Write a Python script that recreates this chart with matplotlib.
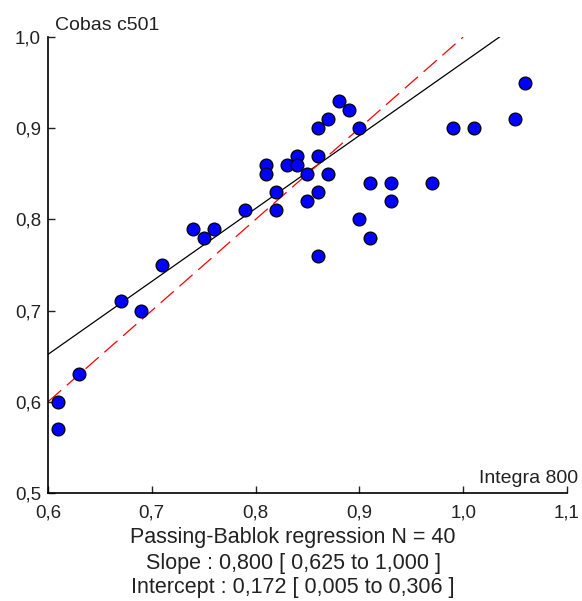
"""
Passing-Bablok method comparison: Cobas c501 vs Integra 800.
"""

import numpy as np
import matplotlib.pyplot as plt
from matplotlib.ticker import FuncFormatter

plt.rcParams["font.family"] = ["Liberation Sans", "DejaVu Sans"]

# Measured values (Integra 800 on x, Cobas c501 on y)
integra = [0.61, 0.61, 0.63, 0.67, 0.69, 0.71, 0.74, 0.75, 0.76, 0.79,
           0.81, 0.81, 0.82, 0.82, 0.83, 0.84, 0.84, 0.85, 0.85, 0.86,
           0.86, 0.86, 0.86, 0.87, 0.87, 0.88, 0.89, 0.90, 0.90, 0.91,
           0.91, 0.93, 0.93, 0.97, 0.99, 1.01, 1.05, 1.06]
cobas = [0.60, 0.57, 0.63, 0.71, 0.70, 0.75, 0.79, 0.78, 0.79, 0.81,
         0.86, 0.85, 0.83, 0.81, 0.86, 0.87, 0.86, 0.85, 0.82, 0.90,
         0.87, 0.83, 0.76, 0.91, 0.85, 0.93, 0.92, 0.90, 0.80, 0.84,
         0.78, 0.84, 0.82, 0.84, 0.90, 0.90, 0.91, 0.95]

slope = 0.800
intercept = 0.172
n_samples = 40
slope_ci = (0.625, 1.000)
intercept_ci = (0.005, 0.306)

xticks = [0.6, 0.7, 0.8, 0.9, 1.0, 1.1]
yticks = [0.5, 0.6, 0.7, 0.8, 0.9, 1.0]

fig = plt.figure(figsize=(5.82, 6.01), dpi=100)
ax = fig.add_axes([48 / 582, 1 - 493 / 601, 519 / 582, 456 / 601])

# regression line, clipped at top of plot
x_end = (1.0 - intercept) / slope
xr = np.array([0.6, x_end])
ax.plot(xr, slope * xr + intercept, color="black", linewidth=0.9, zorder=2)

# identity line
ax.plot([0.6, 1.0], [0.6, 1.0], color="red", linewidth=0.9,
        dashes=(14, 6), zorder=2)

ax.scatter(integra, cobas, s=85, color="#0000ff", edgecolors="black",
           linewidths=0.9, zorder=3, clip_on=False)

ax.set_xlim(0.6, 1.1)
ax.set_ylim(0.5, 1.0)
ax.set_xticks(xticks)
ax.set_yticks(yticks)
comma = FuncFormatter(lambda v, p: f"{v:.1f}".replace(".", ","))
ax.xaxis.set_major_formatter(comma)
ax.yaxis.set_major_formatter(comma)
ax.tick_params(direction="in", length=5, width=1, labelsize=13.5,
               colors="#222222")
ax.tick_params(axis="x", pad=8)
ax.tick_params(axis="y", pad=5)

for side in ["top", "right"]:
    ax.spines[side].set_visible(False)
for side in ["left", "bottom"]:
    ax.spines[side].set_linewidth(1.2)

fig.text(55 / 582, 1 - 30 / 601, "Cobas c501", fontsize=14,
         color="#222222", ha="left", va="baseline")
fig.text(578 / 582, 1 - 483 / 601, "Integra 800", fontsize=14,
         color="#222222", ha="right", va="baseline")

lines = [
    f"Passing-Bablok regression N = {n_samples}",
    f"Slope : {slope:.3f} [ {slope_ci[0]:.3f} to {slope_ci[1]:.3f} ]".replace(".", ","),
    f"Intercept : {intercept:.3f} [ {intercept_ci[0]:.3f} to {intercept_ci[1]:.3f} ]".replace(".", ","),
]
for txt, yc in zip(lines, [538, 563, 588]):
    fig.text(293 / 582, 1 - yc / 601, txt, fontsize=15.5, color="#222222",
             ha="center", va="center")

plt.savefig("out.png", dpi=100)
plt.close()
